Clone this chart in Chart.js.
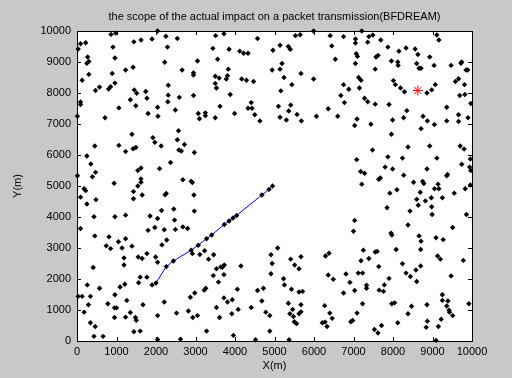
<!DOCTYPE html>
<html>
<head>
<meta charset="utf-8">
<script src="https://cdn.jsdelivr.net/npm/chart.js@4/dist/chart.umd.min.js"></script>
<style>
  html, body { margin: 0; padding: 0; background: #c8c8c8; }
</style>
</head>
<body>
<canvas id="scope" width="512" height="378"></canvas>
<script>
// node positions (m)
var nodes = [
  [860,9890],[980,9930],[2040,10000],[2250,9830],[90,9590],[220,9620],[1440,9650],[1620,9710],[1900,9740],[30,9420],
  [910,9480],[2290,9480],[270,9160],[300,9020],[250,8960],[960,9130],[2220,8990],[1230,8740],[1420,8830],[890,8630],
  [300,8600],[130,8410],[960,8320],[850,8200],[800,8130],[570,8190],[470,8080],[2310,8250],[1450,8100],[1510,7990],
  [1740,8050],[2310,7930],[1770,7830],[1350,7780],[2300,7720],[90,7710],[90,7630],[1490,7590],[1060,7520],[2040,7540],
  [1800,7340],[2050,7250],[10,7250],[710,7200],
  [2540,9760],[3510,9850],[3720,9910],[4570,9760],[3440,9440],[3850,9410],[4120,9350],[4220,9280],[4330,9280],[3050,9030],
  [3560,9090],[2660,8740],[2950,8650],[2950,8580],[3830,8770],[3500,8540],[3600,8480],[3810,8560],[3780,8450],[4170,8450],
  [4290,8410],[4470,8370],[3500,8310],[3530,8160],[2590,7860],[2950,7920],[3880,7950],[4410,7690],[3620,7570],[4330,7510],
  [4430,7510],[2490,7450],[3070,7340],[3250,7360],[3250,7270],[3100,7170],[3500,7200],[3990,7340],[4500,7300],[4630,7100],
  [5990,10000],[7210,10000],[5530,9850],[5650,9880],[6410,9850],[6750,9820],[7050,9740],[7390,9820],[7050,9610],[7360,9640],
  [5140,9540],[5350,9500],[5400,9410],[6450,9520],[4960,9380],[7070,9270],[7100,9180],[6540,9090],[5190,8950],[7050,8950],
  [4940,8740],[5140,8770],[5670,8630],[5240,8500],[5990,8450],[7130,8500],[7190,8410],[5440,8270],[6750,8270],[6880,8120],
  [7150,8160],[5160,8070],[6680,7920],[7280,7830],[7360,7720],[6770,7690],[5100,7570],[5410,7610],[6360,7490],[5360,7420],
  [5570,7310],[5140,7220],[5300,7130],[5680,7100],[6060,7250],[6600,7250],[7090,7160],[7030,6950],
  [9110,9870],[9160,9710],[7490,9870],[7690,9710],[7870,9480],[8150,9350],[8330,9450],[8560,9420],[8630,9240],[8930,9160],
  [7570,9160],[7620,9210],[7960,9030],[8120,9000],[8130,8890],[8600,8950],[8660,8800],[8710,8800],[9040,8890],[9470,8890],
  [9720,8960],[9740,9000],[9850,8740],[9890,8740],[7550,8770],[8010,8400],[8060,8270],[8190,8160],[8290,8040],[8860,8000],
  [8980,8100],[9070,8270],[9580,8370],[9660,8460],[9810,8270],[9690,7920],[9820,7950],[9970,7660],[7550,7640],[7900,7630],
  [9360,7540],[8350,7430],[9660,7300],[7990,7130],[8270,7200],[8760,7250],[8870,7100],[9050,6980],[9360,7100],[9660,7080],
  [9900,7200],[7440,6990],[8710,6850],
  [1390,6670],[1920,6560],[1970,6410],[2130,6290],[450,6290],[1060,6310],[1230,6110],[1420,6200],[1490,6240],[250,5970],
  [350,5710],[470,5440],[390,5300],[1540,5500],[1620,5580],[2090,5560],[10,5330],[1620,5230],[1620,5120],[940,5090],
  [1540,5000],[180,4910],[220,4850],[1430,4820],[1650,4710],[2260,4760],[2230,4720],[90,4640],[480,4560],[1430,4590],
  [250,4420],[430,4010],[960,4010],[1230,4060],[1850,4030],[2040,3950],[2140,4210],[90,3630],[1800,3570],[1970,3660],
  [2210,3590],
  [2570,6780],[2540,6490],[2720,6340],[2580,6160],[2640,6130],[2970,6080],[2370,5760],[2680,5200],[2890,5150],[2920,5110],
  [2960,4710],[2450,4260],[2970,4190],[2470,3900],[2680,3680],[2800,3630],[2490,3600],
  [7080,5850],[7180,5470],[7280,5410],[7210,5060],[7030,3890],[7000,3540],
  [7960,6670],[7480,6160],[8380,6260],[8930,6290],[9700,6290],[9800,6190],[7870,5940],[8240,5900],[9110,5900],[9740,5700],
  [7800,5610],[7990,5550],[8860,5550],[9960,5870],[9940,5610],[9970,5500],[8270,5350],[9380,5370],[9360,5330],[7680,5260],
  [7640,5220],[8520,5120],[8750,5150],[8780,5080],[9140,5060],[8100,4880],[7920,4770],[8690,4800],[9050,4910],[9160,4910],
  [9550,4770],[9830,4910],[9960,5030],[9250,4620],[8970,4620],[8600,4570],[8820,4520],[8640,4380],[8980,4330],[7850,4300],
  [8430,4190],[8990,4080],[9860,4080],[8380,3740],[9510,3660],[7950,3480],
  [450,3390],[810,3360],[1050,3200],[1230,3300],[740,3070],[850,2980],[1140,3000],[1390,3060],[2150,3100],[2270,3260],
  [1190,2680],[1550,2710],[1650,2660],[1770,2820],[1990,2710],[2040,2540],[1190,2450],[410,2370],[1600,2060],[1770,2060],
  [1560,1880],[1900,1810],[260,1810],[570,1700],[1090,1740],[1210,1830],[30,1440],[130,1440],[340,1440],[960,1490],
  [1260,1310],[2210,1260],[290,1170],[780,1200],[950,1070],[1000,1070],[1670,1170],[1230,770],[950,760],[1350,920],
  [1480,760],[1500,670],[180,930],[2040,820],[340,590],[460,470],[1440,300],[1600,320],[430,150],[660,150],
  [2040,50],
  [2920,2820],[3230,2910],[3110,2790],[3330,2640],[3460,2780],[3530,2330],[3640,2390],[3680,2380],[3730,2450],[4150,2420],
  [3450,2110],[3720,2140],[3580,1900],[3260,1700],[3220,1640],[2980,1550],[2870,1410],[4060,1670],[4570,1630],[4720,1700],
  [3720,1390],[3810,1260],[3930,1330],[3530,1080],[4080,1020],[3920,880],[4410,1080],[4680,1290],[4780,930],[4880,820],
  [2520,900],[2820,970],[2930,760],[3050,820],[3610,760],[3280,320],[3960,180],[4880,320],[2620,60],[4520,40],
  [5080,3000],[4910,2780],[4940,2500],[4910,2170],[5410,2640],[5670,2720],[5510,2450],[5620,2330],[6290,2740],[6380,2830],
  [7250,2930],[7190,2590],[7390,2660],[5230,2010],[5250,1810],[6360,2130],[6490,1990],[6810,2160],[7120,2190],[7230,2190],
  [5430,1670],[5620,1580],[5710,1600],[6910,1890],[7030,1630],[7330,1800],[7330,1700],[6750,1550],[5350,1220],[5670,1170],
  [6270,1140],[7230,1200],[5460,1020],[5390,880],[5480,790],[5620,880],[5670,940],[6400,900],[5500,620],[5560,560],
  [6460,730],[6210,590],[6280,610],[6330,470],[6930,620],[6980,660],[7090,900],[5370,40],
  [7970,3420],[8660,3390],[8710,3220],[9090,3330],[9270,3270],[7550,2870],[7600,2890],[8080,2950],[8700,2950],[9130,2740],
  [9200,2640],[9780,2600],[7640,2400],[8240,2490],[8700,2420],[8580,2290],[8330,2190],[8440,2080],[8600,1920],[9470,2100],
  [7900,2020],[7780,1810],[7650,1640],[7760,1600],[9250,1490],[9250,1310],[9390,1290],[9360,1130],[9420,990],[9430,930],
  [9510,820],[7970,1200],[8040,1230],[8470,1120],[8860,1170],[8380,880],[9920,1200],[8120,590],[7710,500],[7530,370],
  [7620,260],[8870,640],[8840,440],[9150,470],[9220,700],[9090,20]
];

// hops of the packet, also nodes
var routeX = [2000, 2260, 2440, 2890, 3070, 3280, 3410, 3730, 3850, 3950, 4040, 4680, 4860, 4950];
var routeY = [1870, 2400, 2580, 2930, 3090, 3300, 3420, 3760, 3870, 3970, 4050, 4710, 4890, 5000];

var targetX = [8630];
var targetY = [8080];

var axisTicks = [0, 1000, 2000, 3000, 4000, 5000, 6000, 7000, 8000, 9000, 10000];
var titleText = 'the scope of the actual impact on a packet transmission(BFDREAM)';

var routePts = routeX.map(function (x, i) { return {x: x, y: routeY[i]}; });
var nodePts = nodes.map(function (p) { return {x: p[0], y: p[1]}; }).concat(routePts);
var targetPts = targetX.map(function (x, i) { return {x: x, y: targetY[i]}; });

const FONT = '"Liberation Sans", Arial, Helvetica, sans-serif';

// white axes box, inward ticks on all four sides, title on top
const matlabAxes = {
  id: 'matlabAxes',
  beforeDraw(chart) {
    const ctx = chart.ctx, a = chart.chartArea;
    ctx.save();
    ctx.fillStyle = '#ffffff';
    ctx.fillRect(a.left, a.top, a.right - a.left, a.bottom - a.top);
    ctx.restore();
  },
  afterDraw(chart) {
    const ctx = chart.ctx, a = chart.chartArea;
    const xs = chart.scales.x, ys = chart.scales.y;
    ctx.save();
    ctx.strokeStyle = '#000';
    ctx.lineWidth = 1;
    ctx.beginPath();
    axisTicks.forEach(function (v) {
      const px = Math.round(xs.getPixelForValue(v)) + 0.5;
      ctx.moveTo(px, a.bottom); ctx.lineTo(px, a.bottom - 4);
      ctx.moveTo(px, a.top); ctx.lineTo(px, a.top + 4);
      const py = Math.round(ys.getPixelForValue(v)) + 0.5;
      ctx.moveTo(a.left, py); ctx.lineTo(a.left + 4, py);
      ctx.moveTo(a.right, py); ctx.lineTo(a.right - 4, py);
    });
    ctx.stroke();
    ctx.strokeRect(Math.round(a.left) + 0.5, Math.round(a.top) + 0.5,
      Math.round(a.right - a.left), Math.round(a.bottom - a.top));
    ctx.fillStyle = '#000';
    ctx.font = '11px ' + FONT;
    ctx.textAlign = 'center';
    ctx.textBaseline = 'middle';
    ctx.fillText(titleText, (a.left + a.right) / 2, 17);
    ctx.restore();
  }
};

function plainTick(value) { return String(value); }

new Chart(document.getElementById('scope'), {
  type: 'scatter',
  data: {
    datasets: [
      {
        label: 'target',
        data: targetPts,
        pointStyle: 'star',
        radius: 5,
        borderColor: '#ff0000',
        borderWidth: 1,
        order: 0
      },
      {
        label: 'nodes',
        data: nodePts,
        pointStyle: 'rectRot',
        radius: 2.7,
        backgroundColor: '#000',
        borderColor: '#000',
        borderWidth: 0,
        clip: false,
        order: 1
      },
      {
        label: 'route',
        type: 'line',
        data: routePts,
        borderColor: '#0000ff',
        borderWidth: 1,
        pointRadius: 0,
        fill: false,
        tension: 0,
        order: 2
      }
    ]
  },
  options: {
    responsive: false,
    animation: false,
    events: [],
    layout: { padding: { top: 31, right: 40, left: 0, bottom: 0 } },
    plugins: {
      legend: { display: false },
      tooltip: { enabled: false }
    },
    scales: {
      x: {
        type: 'linear',
        min: 0,
        max: 10000,
        afterBuildTicks: function (scale) { scale.ticks = axisTicks.map(function (v) { return {value: v}; }); },
        afterFit: function (scale) { scale.height = 37; },
        grid: { display: false, drawTicks: false },
        border: { display: false },
        ticks: { color: '#000', padding: 4, maxRotation: 0, autoSkip: false, callback: plainTick, font: { family: FONT, size: 11 } },
        title: { display: true, text: 'X(m)', color: '#000', padding: { top: 0, bottom: 5 }, font: { family: FONT, size: 11 } }
      },
      y: {
        type: 'linear',
        min: 0,
        max: 10000,
        afterBuildTicks: function (scale) { scale.ticks = axisTicks.map(function (v) { return {value: v}; }); },
        afterFit: function (scale) { scale.width = 77; },
        grid: { display: false, drawTicks: false },
        border: { display: false },
        ticks: { color: '#000', padding: 6, autoSkip: false, callback: plainTick, font: { family: FONT, size: 11 } },
        title: { display: true, text: 'Y(m)', color: '#000', padding: { top: 11, bottom: 0 }, font: { family: FONT, size: 11 } }
      }
    }
  },
  plugins: [matlabAxes]
});
</script>
</body>
</html>
